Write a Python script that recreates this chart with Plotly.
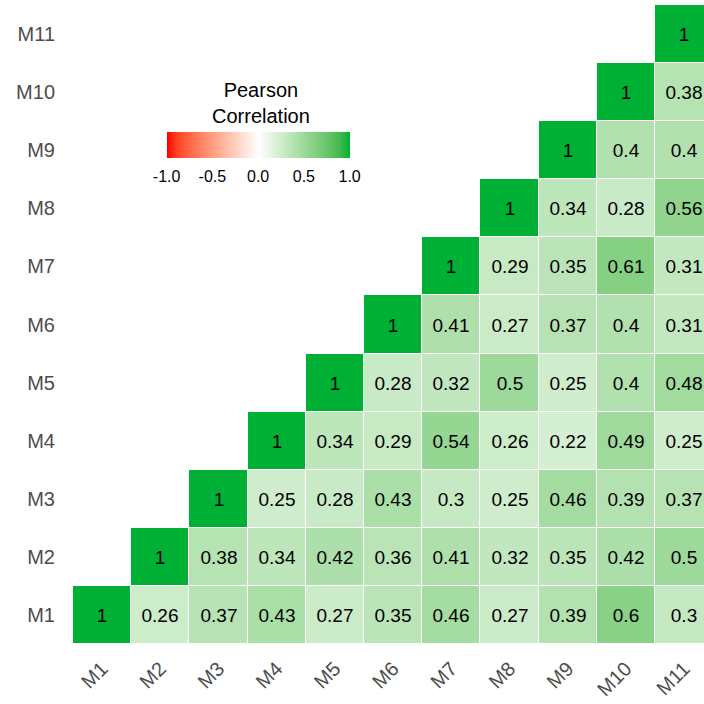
import plotly.graph_objects as go
import numpy as np

labels = ["M1", "M2", "M3", "M4", "M5", "M6", "M7", "M8", "M9", "M10", "M11"]

# upper triangle rows: row i lists correlations with columns i..M11
row_M1 = [1, 0.26, 0.37, 0.43, 0.27, 0.35, 0.46, 0.27, 0.39, 0.6, 0.3]
row_M2 = [1, 0.38, 0.34, 0.42, 0.36, 0.41, 0.32, 0.35, 0.42, 0.5]
row_M3 = [1, 0.25, 0.28, 0.43, 0.3, 0.25, 0.46, 0.39, 0.37]
row_M4 = [1, 0.34, 0.29, 0.54, 0.26, 0.22, 0.49, 0.25]
row_M5 = [1, 0.28, 0.32, 0.5, 0.25, 0.4, 0.48]
row_M6 = [1, 0.41, 0.27, 0.37, 0.4, 0.31]
row_M7 = [1, 0.29, 0.35, 0.61, 0.31]
row_M8 = [1, 0.34, 0.28, 0.56]
row_M9 = [1, 0.4, 0.4]
row_M10 = [1, 0.38]
row_M11 = [1]

rows = [row_M1, row_M2, row_M3, row_M4, row_M5, row_M6, row_M7, row_M8, row_M9, row_M10, row_M11]

cbar_vals = [-1, -0.5, 0, 0.5, 1]
cbar_text = ["-1.0", "-0.5", "0.0", "0.5", "1.0"]
legend_title = "Pearson<br>Correlation"

n = len(labels)
z = []
txt = []
for i, r in enumerate(rows):
    zr = [None] * i + list(r)
    z.append(zr)
    txt.append(["" if v is None else ("%g" % v) for v in zr])

# Lab-space interpolation (like ggplot's gradient2)
def srgb_to_lin(c):
    c = c / 255.0
    return np.where(c <= 0.04045, c / 12.92, ((c + 0.055) / 1.055) ** 2.4)

def lin_to_srgb(c):
    c = np.clip(c, 0, 1)
    v = np.where(c <= 0.0031308, 12.92 * c, 1.055 * c ** (1 / 2.4) - 0.055)
    return np.clip(np.round(v * 255), 0, 255)

M = np.array([[0.4124, 0.3576, 0.1805], [0.2126, 0.7152, 0.0722], [0.0193, 0.1192, 0.9505]])
Minv = np.linalg.inv(M)
wp = np.array([0.95047, 1.0, 1.08883])

def f(t):
    return np.where(t > (6 / 29) ** 3, np.cbrt(t), t / (3 * (6 / 29) ** 2) + 4 / 29)

def finv(t):
    return np.where(t > 6 / 29, t ** 3, 3 * (6 / 29) ** 2 * (t - 4 / 29))

def rgb_to_lab(rgb):
    xyz = M @ srgb_to_lin(np.array(rgb, float)) / wp
    fx, fy, fz = f(xyz)
    return np.array([116 * fy - 16, 500 * (fx - fy), 200 * (fy - fz)])

def lab_to_rgb(lab):
    L, a, b = lab
    fy = (L + 16) / 116
    fx = fy + a / 500
    fz = fy - b / 200
    xyz = np.array([finv(fx), finv(fy), finv(fz)]) * wp
    return lin_to_srgb(Minv @ xyz)

low = rgb_to_lab([255, 0, 0])
mid = rgb_to_lab([255, 255, 255])
high = rgb_to_lab([0, 176, 53])

colorscale = []
steps = 20
for k in range(steps + 1):
    t = k / steps
    if t <= 0.5:
        u = t / 0.5
        lab = low + (mid - low) * u
    else:
        u = (t - 0.5) / 0.5
        lab = mid + (high - mid) * u
    r, g, b = lab_to_rgb(lab)
    colorscale.append([t, "rgb(%d,%d,%d)" % (r, g, b)])

FONT = "Liberation Sans, Arial, sans-serif"
CB_X = 288 / 704

fig = go.Figure(
    go.Heatmap(
        z=z,
        x=labels,
        y=labels,
        text=txt,
        texttemplate="%{text}",
        textfont=dict(family=FONT, size=19, color="black"),
        colorscale=colorscale,
        zmin=-1,
        zmax=1,
        xgap=1,
        ygap=1,
        hoverongaps=False,
        colorbar=dict(
            orientation="h",
            xref="container",
            yref="container",
            x=CB_X,
            xanchor="center",
            y=1 - 132 / 704,
            yanchor="top",
            xpad=0,
            ypad=0,
            lenmode="pixels",
            len=183,
            thickness=26,
            outlinewidth=0,
            tickvals=cbar_vals,
            ticktext=cbar_text,
            ticks="outside",
            ticklen=5,
            tickcolor="rgba(0,0,0,0)",
            tickfont=dict(family=FONT, size=16, color="black"),
        ),
    )
)

fig.add_annotation(
    text=legend_title,
    xref="paper",
    yref="paper",
    x=(261 - 73) / (704 - 73),
    y=1 - (103 - 5) / (704 - 65),
    xanchor="center",
    yanchor="middle",
    showarrow=False,
    font=dict(family=FONT, size=20, color="black"),
)

x_end = -0.5 + (704 - 73) / 58.2

fig.update_layout(
    width=704,
    height=704,
    margin=dict(l=73, r=0, t=5, b=60, autoexpand=False),
    plot_bgcolor="white",
    paper_bgcolor="white",
    font=dict(family=FONT),
    xaxis=dict(
        range=[-0.5, x_end],
        showgrid=False,
        zeroline=False,
        tickangle=-45,
        tickfont=dict(size=20, color="#4D4D4D"),
        ticks="",
        ticklabelstandoff=8,
        automargin=False,
    ),
    yaxis=dict(
        range=[-0.5, 10.5],
        showgrid=False,
        zeroline=False,
        tickfont=dict(size=20, color="#4D4D4D"),
        ticks="",
        ticklabelstandoff=17,
        automargin=False,
    ),
)

fig.write_html(
    "out.html",
    config={"displayModeBar": False},
    post_script="document.body.style.margin='0';document.body.style.overflow='hidden';",
)
